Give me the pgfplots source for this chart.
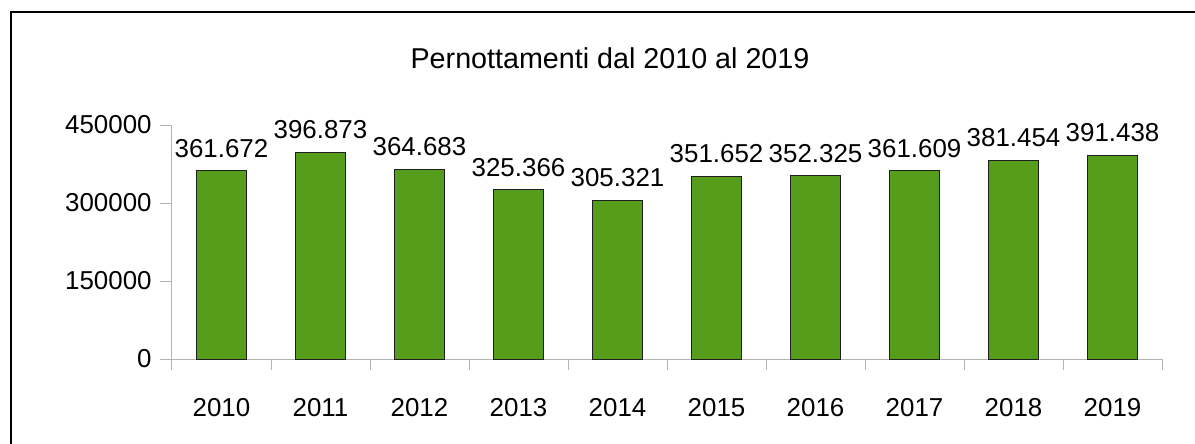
\documentclass[border=0pt]{standalone}
\usepackage{fontspec}
\setmainfont{Liberation Sans}
\usepackage{pgfplots}
\pgfplotsset{compat=1.18}
\definecolor{barfill}{HTML}{579D1C}
\definecolor{barline}{HTML}{1E1E1E}
\definecolor{axisgray}{HTML}{B3B3B3}
\newcommand{\lab}{\fontsize{13}{15}\selectfont}
\begin{document}
\begin{tikzpicture}[x=1bp,y=1bp]
  % picture area (1 px = 0.5 bp), origin at the lower left of the axis
  \path[use as bounding box,clip] (-86,-42) rectangle (511.5,179.5);
  \draw[line width=0.6bp] (-80.5,173.5) rectangle (560,-80);
  \node[anchor=base,inner sep=0pt,font=\fontsize{14.4}{17}\selectfont] at (219,145.5) {Pernottamenti dal 2010 al 2019};
  \begin{axis}[
    at={(0,0)}, anchor=south west,
    scale only axis, width=495bp, height=117bp,
    xmin=-0.5, xmax=9.5, ymin=0, ymax=450000,
    axis x line*=bottom, axis y line*=left,
    axis line style={-, draw=axisgray, line width=0.5bp},
    ybar, bar width=25bp,
    xtick={0,...,9},
    xticklabels={2010,2011,2012,2013,2014,2015,2016,2017,2018,2019},
    major x tick style={draw=none},
    minor xtick={-0.5,0.5,...,9.5},
    minor x tick style={draw=axisgray, line width=0.5bp},
    minor tick length=5.5bp,
    scaled y ticks=false,
    ytick={0,150000,300000,450000},
    yticklabels={0,150000,300000,450000},
    ytick style={draw=axisgray, line width=0.5bp},
    major tick length=6bp,
    tick align=outside,
    tick label style={font=\lab, inner sep=0pt},
    xticklabel style={anchor=base, yshift=-22.5bp},
    yticklabel style={anchor=east, xshift=-4bp},
    nodes near coords, point meta=explicit symbolic,
    every node near coord/.append style={font=\lab, inner sep=0pt, yshift=6.5bp},
    clip=false,
  ]
  \addplot[fill=barfill, draw=barline, line width=0.5bp] coordinates {
    (0,361672) [361.672]
    (1,396873) [396.873]
    (2,364683) [364.683]
    (3,325366) [325.366]
    (4,305321) [305.321]
    (5,351652) [351.652]
    (6,352325) [352.325]
    (7,361609) [361.609]
    (8,381454) [381.454]
    (9,391438) [391.438]
  };
  \end{axis}
\end{tikzpicture}
\end{document}
